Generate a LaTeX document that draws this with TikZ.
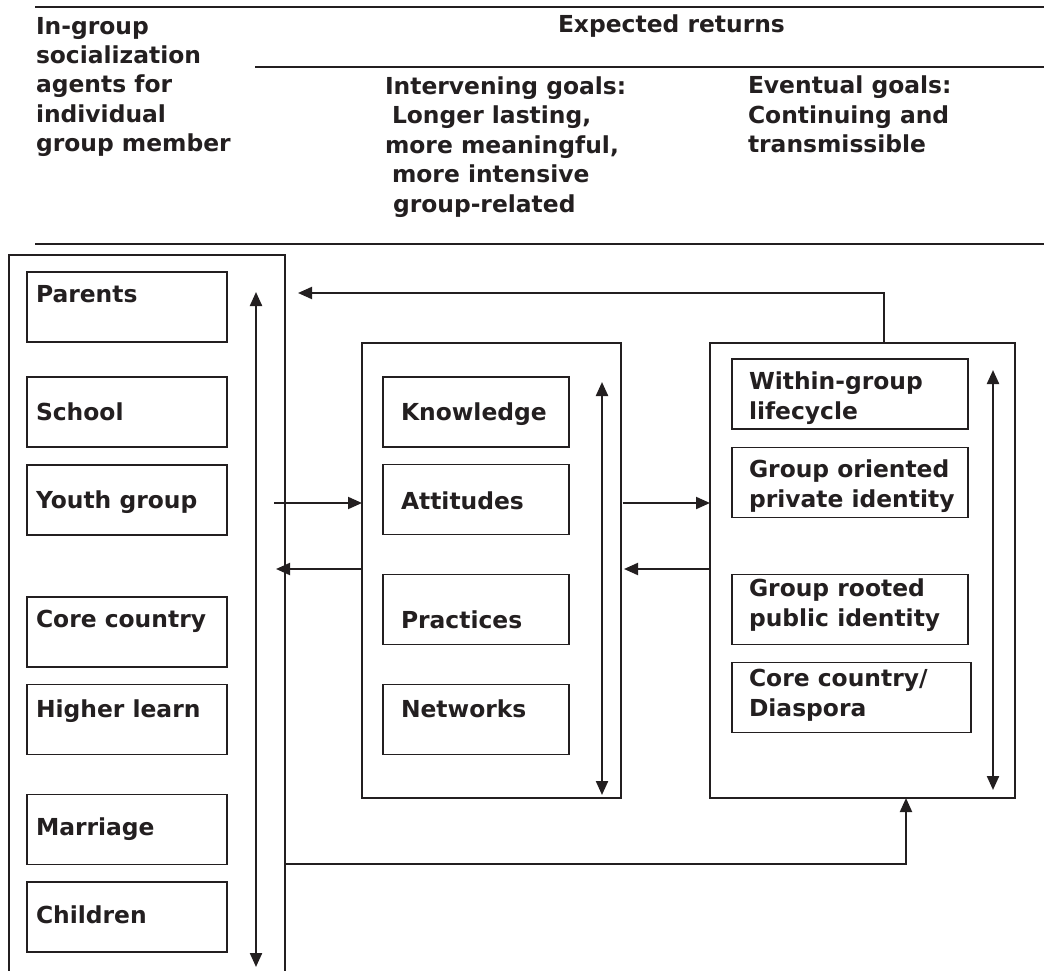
\documentclass[tikz,border=0pt]{standalone}
\usepackage{fontspec}
\setmainfont{DejaVu Sans}
\usetikzlibrary{arrows.meta}
\definecolor{ink}{HTML}{231F20}
\begin{document}
\begin{tikzpicture}[x=1pt,y=-1pt,
 every node/.style={inner sep=0pt,outer sep=0pt,text=ink,font=\fontsize{23.4}{29.5}\selectfont\bfseries},
 bx/.style={draw=ink,line width=1.5pt},
 lbox/.style={bx,minimum width=200pt,minimum height=70pt},
 mbox/.style={bx,minimum width=186pt,minimum height=70pt},
 rbox/.style={bx,minimum width=236pt,minimum height=70pt},
 lbl/.style={anchor=base west,align=left},
 tip/.tip={Triangle[length=14pt,width=12pt]},
 con/.style={draw=ink,line width=2pt,-tip},
 dbl/.style={draw=ink,line width=2.2pt,tip-tip},
 rule/.style={draw=ink,line width=2pt}]
\useasboundingbox (0,0) rectangle (1044,971);
% header rules
\draw[rule] (35,7) -- (1044,7);
\draw[rule] (255,67) -- (1044,67);
\draw[rule] (35,244) -- (1044,244);
% header texts (base anchor = last line)
\node[lbl] (hagents) at (36,152) {In-group\\socialization\\agents for\\individual\\group member};
\node[lbl] (hexp) at (558,33) {Expected returns};
\node[lbl] (hint) at (385,212) {Intervening goals:\\\hspace*{7pt}Longer lasting,\\more meaningful,\\\hspace*{7pt}more intensive\\\hspace*{8pt}group-related};
\node[lbl] (hev) at (748,153) {Eventual goals:\\Continuing and\\transmissible};
% left column
\node[minimum width=276pt,minimum height=716pt] (agents) at (147,613) {};
\draw[bx] (agents.south west) -- (agents.north west) -- (agents.north east) -- (agents.south east);
\node[lbox] (parents) at (127,307) {};
\node[lbox] (school) at (127,412) {};
\node[lbox] (youth) at (127,500) {};
\node[lbox] (corec) at (127,632) {};
\node[lbox] (higher) at (127,719.5) {};
\node[lbox] (marriage) at (127,829.5) {};
\node[lbox] (children) at (127,917) {};
\node[lbl] (tparents) at (36,302) {Parents};
\node[lbl] (tschool) at (36,420) {School};
\node[lbl] (tyouth) at (36,508) {Youth group};
\node[lbl] (tcorec) at (36,627) {Core country};
\node[lbl] (thigher) at (36,717) {Higher learn};
\node[lbl] (tmarriage) at (36,835) {Marriage};
\node[lbl] (tchildren) at (36,923) {Children};
% middle column
\node[bx,minimum width=259pt,minimum height=455pt] (mid) at (491.5,570.5) {};
\node[mbox] (knowledge) at (476,412) {};
\node[mbox] (attitudes) at (476,499.5) {};
\node[mbox] (practices) at (476,609.5) {};
\node[mbox] (networks) at (476,719.5) {};
\node[lbl] (tknowledge) at (401,420) {Knowledge};
\node[lbl] (tattitudes) at (401,509) {Attitudes};
\node[lbl] (tpractices) at (401,628) {Practices};
\node[lbl] (tnetworks) at (401,717) {Networks};
% right column
\node[bx,minimum width=305pt,minimum height=455pt] (right) at (862.5,570.5) {};
\node[rbox] (within) at (850,394) {};
\node[rbox] (oriented) at (850,482.5) {};
\node[rbox] (rooted) at (850,609.5) {};
\node[rbox,minimum width=239pt] (diaspora) at (851.5,697.5) {};
\node[lbl] (twithin) at (749,419) {Within-group\\lifecycle};
\node[lbl] (toriented) at (749,507) {Group oriented\\private identity};
\node[lbl] (trooted) at (749,626) {Group rooted\\public identity};
\node[lbl] (tdiaspora) at (749,716) {Core country/\\Diaspora};
% vertical double arrows
\coordinate (la1) at (256,292); \coordinate (la2) at (256,967);
\coordinate (ma1) at (602,382); \coordinate (ma2) at (602,795);
\coordinate (ra1) at (993,370); \coordinate (ra2) at (993,790);
\draw[dbl] (la1) -- (la2);
\draw[dbl] (ma1) -- (ma2);
\draw[dbl] (ra1) -- (ra2);
% connectors
\coordinate (fbend) at (298,293);
\draw[con] ([xshift=21.5pt]right.north) |- (fbend);
\coordinate (ystart) at (274,503);
\draw[con] (ystart) -- (ystart -| mid.west);
\coordinate (yend) at (276,569);
\draw[con] (yend -| mid.west) -- (yend);
\draw[con] ([xshift=1.5pt]mid.east |- ystart) -- (right.west |- ystart);
\draw[con] (right.west |- yend) -- ([xshift=3pt]mid.east |- yend);
\coordinate (bot) at (906,864);
\draw[con] (agents.east |- bot) -| ([xshift=43.5pt]right.south);
\end{tikzpicture}
\end{document}
